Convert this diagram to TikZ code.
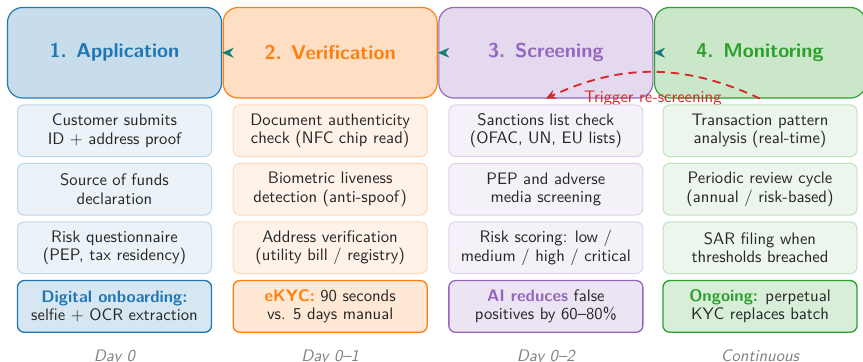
\documentclass[tikz,border=0pt]{standalone}
\usepackage{tikz}
\usetikzlibrary{arrows.meta, positioning, calc}
\definecolor{tabblue}{HTML}{1F77B4}
\definecolor{taborange}{HTML}{FF7F0E}
\definecolor{tabpurple}{HTML}{9467BD}
\definecolor{tabgreen}{HTML}{2CA02C}
\definecolor{tabred}{HTML}{D62728}
\definecolor{flowteal}{HTML}{1B7F7A}

\begin{document}
\begin{tikzpicture}[x=0.6pt, y=-0.6pt, font=\sffamily,
  header/.style={draw=#1, fill=#1!25, text=#1, rounded corners=9pt, line width=0.7pt,
    minimum width=128.4pt, minimum height=54.3pt, font=\sffamily\bfseries\large},
  item/.style={draw=#1!30, fill=#1!9, rounded corners=4pt, line width=0.6pt, text=black!85,
    minimum width=116.4pt, minimum height=31pt, align=center, inner sep=2pt,
    font=\sffamily\fontsize{10}{11}\selectfont},
  keyitem/.style={item=#1, draw=#1, fill=#1!18, line width=0.8pt},
  daylabel/.style={text=black!50, font=\sffamily\itshape, inner sep=0pt},
  flowarrow/.style={-{Stealth[length=7pt,width=6pt]}, flowteal},
  retrigger/.style={-{Stealth[length=6pt,width=5.5pt]}, tabred, line width=1.1pt,
    dash pattern=on 5pt off 3.5pt},
  node distance=3.5pt]
\useasboundingbox (0,0) rectangle (863,362);

\node[header=tabblue] (h1) at (114.5,52.75) {1. Application};
\node[header=taborange, right=0.3pt of h1] (h2) {2. Verification};
\node[header=tabpurple, right=0.3pt of h2] (h3) {3. Screening};
\node[header=tabgreen, minimum width=126.6pt, right=0.3pt of h3] (h4) {4. Monitoring};

\foreach \a/\b in {h2/h1, h3/h2, h4/h3}
  \draw[flowarrow] (\a.west) -- (\b.east);

\draw[retrigger] (h4.south) to[bend right=25] (h3.south);
\node[text=tabred] (trig) at ($(h3.south)!0.5!(h4.south)$) {Trigger re-screening};

\node[item=tabblue, below=of h1] (a1) {Customer submits\\ID $+$ address proof};
\node[item=tabblue, below=of a1] (a2) {Source of funds\\declaration};
\node[item=tabblue, below=of a2] (a3) {Risk questionnaire\\(PEP, tax residency)};
\node[keyitem=tabblue, below=of a3] (a4) {\textcolor{tabblue}{\bfseries Digital onboarding:}\\selfie $+$ OCR extraction};

\node[item=taborange, below=of h2] (b1) {Document authenticity\\check (NFC chip read)};
\node[item=taborange, below=of b1] (b2) {Biometric liveness\\detection (anti-spoof)};
\node[item=taborange, below=of b2] (b3) {Address verification\\(utility bill / registry)};
\node[keyitem=taborange, below=of b3] (b4) {\textcolor{taborange}{\bfseries eKYC:} 90 seconds\\vs. 5 days manual};

\node[item=tabpurple, below=of h3] (c1) {Sanctions list check\\(OFAC, UN, EU lists)};
\node[item=tabpurple, below=of c1] (c2) {PEP and adverse\\media screening};
\node[item=tabpurple, below=of c2] (c3) {Risk scoring: low /\\medium / high / critical};
\node[keyitem=tabpurple, below=of c3] (c4) {\textcolor{tabpurple}{\bfseries AI reduces} false\\positives by 60--80\%};

\node[item=tabgreen, below=of h4] (g1) {Transaction pattern\\analysis (real-time)};
\node[item=tabgreen, below=of g1] (g2) {Periodic review cycle\\(annual / risk-based)};
\node[item=tabgreen, below=of g2] (g3) {SAR filing when\\thresholds breached};
\node[keyitem=tabgreen, below=of g3] (g4) {\textcolor{tabgreen}{\bfseries Ongoing:} perpetual\\KYC replaces batch};

\node[daylabel, below=9.8pt of a4] (d1) {Day 0};
\node[daylabel, below=9.8pt of b4] (d2) {Day 0--1};
\node[daylabel, below=9.8pt of c4] (d3) {Day 0--2};
\node[daylabel, below=9.8pt of g4] (d4) {Continuous};
\end{tikzpicture}
\end{document}
